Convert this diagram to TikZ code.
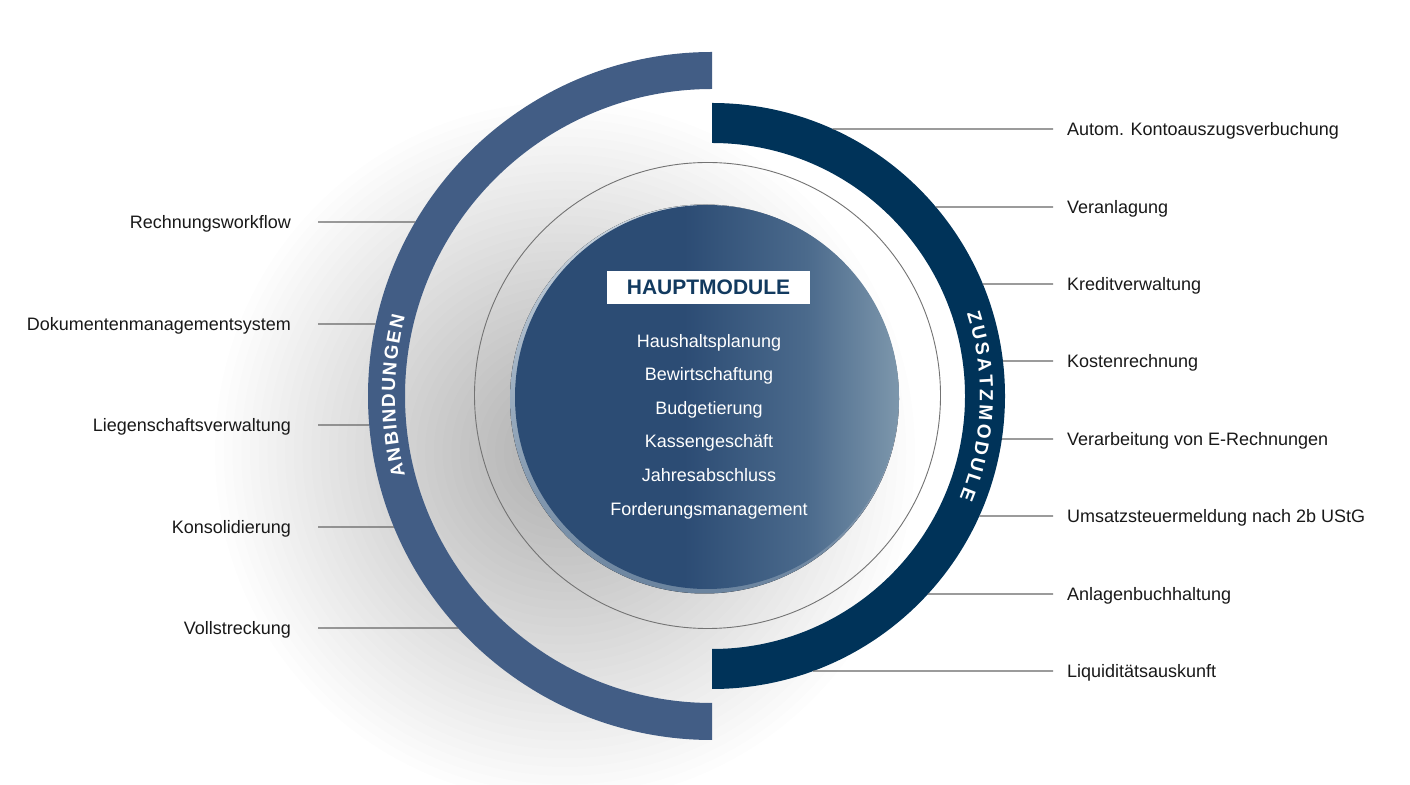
\documentclass[tikz,border=0pt]{standalone}
\usepackage{fontspec}
\setmainfont{Liberation Sans}
\usetikzlibrary{decorations.text,positioning}

\definecolor{anbblue}{HTML}{425D85}
\definecolor{zusblue}{HTML}{003359}
\definecolor{hmdark}{HTML}{2C4C74}
\definecolor{hmmid}{HTML}{4B6A8C}
\definecolor{hmlight}{HTML}{7D97AC}
\definecolor{halolight}{HTML}{CAD5DF}
\definecolor{halodark}{HTML}{6A839E}
\definecolor{titleblue}{HTML}{123A5F}

\pgfdeclarehorizontalshading{hauptshade}{100bp}{color(0bp)=(hmdark); color(25bp)=(hmdark);
  color(47bp)=(hmdark); color(63bp)=(hmmid); color(75bp)=(hmlight); color(100bp)=(hmlight)}

\begin{document}
\begin{tikzpicture}[
  x=1pt,
  y=1pt,
  lbl/.style={font=\fontsize{18}{20}\selectfont,text=black!90,inner sep=0pt,text height=13pt,text depth=0pt},
  leftlbl/.style={lbl,anchor=east,outer xsep=27pt},
  rightlbl/.style={lbl,anchor=west,outer xsep=14pt},
  modul/.style={lbl,text=white},
  leader/.style={draw=black!60,line width=1.3pt},
  ring/.style={draw=black!55,line width=0.9pt},
  shadowstep/.style={fill=black,opacity=0.006},
  titlebox/.style={fill=white,minimum width=203pt,minimum height=33pt,inner sep=0pt,
    font=\fontsize{21}{21}\selectfont\bfseries,text=titleblue},
  arctext/.style={decorate,decoration={text along path,text align=fit to path,text color=white,
    text={|\bfseries\fontsize{19}{19}\selectfont|#1}}}
]
\useasboundingbox (0,0) rectangle (1410,784);
\fill[white] (0,0) rectangle (1410,784);

\coordinate (C) at (712,388);

% soft shadow
\foreach \k in {1,...,40}
  \fill[shadowstep] (565,332) circle ({8.75*\k});

% outer bands
\fill[anbblue] (C) ++(90:344) arc[start angle=90,end angle=270,radius=344]
  -- ++(0,37) arc[start angle=270,end angle=90,radius=307] -- cycle;
\fill[zusblue] (C) ++(90:293) arc[start angle=90,end angle=-90,radius=293]
  -- ++(0,40) arc[start angle=-90,end angle=90,radius=253] -- cycle;

% thin ring and core circle
\draw[ring] (707.5,388.5) circle (233);
\fill[top color=halolight,bottom color=halodark] (704.5,385) circle (194.5);
\node[circle,minimum size=384pt,inner sep=0pt,shading=hauptshade] (haupt) at (707,387) {};

\node[titlebox] (title) at (708.5,496.5) {HAUPTMODULE};
\node[modul] (m1) at (709,443) {Haushaltsplanung};
\node[modul] (m2) at (709,410) {Bewirtschaftung};
\node[modul] (m3) at (709,376) {Budgetierung};
\node[modul] (m4) at (709,343) {Kassengeschäft};
\node[modul] (m5) at (709,309) {Jahresabschluss};
\node[modul] (m6) at (709,275) {Forderungsmanagement};

% band captions
\path[arctext=ANBINDUNGEN] (C) ++(194.5:317) arc[start angle=194.5,end angle=165.5,radius=317];
\path[arctext=ZUSATZMODULE] (C) ++(18:268) arc[start angle=18,end angle=-22.5,radius=268];

% left labels
\node[leftlbl] (l1) at (318,562) {Rechnungsworkflow};
\node[leftlbl] (l2) at (318,460) {Dokumentenmanagementsystem};
\node[leftlbl] (l3) at (318,359) {Liegenschaftsverwaltung};
\node[leftlbl] (l4) at (318,257) {Konsolidierung};
\node[leftlbl] (l5) at (318,156) {Vollstreckung};

\path (C) ++({180-asin(174/344)}:344) coordinate (a1);
\path (C) ++({180-asin(72/344)}:344) coordinate (a2);
\path (C) ++({180+asin(29/344)}:344) coordinate (a3);
\path (C) ++({180+asin(131/344)}:344) coordinate (a4);
\path (C) ++({180+asin(232/344)}:344) coordinate (a5);

\draw[leader] (l1.east) -- (a1);
\draw[leader] (l2.east) -- (a2);
\draw[leader] (l3.east) -- (a3);
\draw[leader] (l4.east) -- (a4);
\draw[leader] (l5.east) -- (a5);

% right labels
\node[rightlbl] (r1) at (1053,655) {Autom. Kontoauszugsverbuchung};
\node[rightlbl] (r2) at (1053,577) {Veranlagung};
\node[rightlbl] (r3) at (1053,500) {Kreditverwaltung};
\node[rightlbl] (r4) at (1053,423) {Kostenrechnung};
\node[rightlbl] (r5) at (1053,345) {Verarbeitung von E-Rechnungen};
\node[rightlbl] (r6) at (1053,268) {Umsatzsteuermeldung nach 2b UStG};
\node[rightlbl] (r7) at (1053,190) {Anlagenbuchhaltung};
\node[rightlbl] (r8) at (1053,113) {Liquiditätsauskunft};

\path (C) ++({asin(267/293)}:293) coordinate (b1);
\path (C) ++({asin(189/293)}:293) coordinate (b2);
\path (C) ++({asin(112/293)}:293) coordinate (b3);
\path (C) ++({asin(35/293)}:293) coordinate (b4);
\path (C) ++({-asin(43/293)}:293) coordinate (b5);
\path (C) ++({-asin(120/293)}:293) coordinate (b6);
\path (C) ++({-asin(198/293)}:293) coordinate (b7);
\path (C) ++({-asin(275/293)}:293) coordinate (b8);

\draw[leader] (b1) -- (r1.west);
\draw[leader] (b2) -- (r2.west);
\draw[leader] (b3) -- (r3.west);
\draw[leader] (b4) -- (r4.west);
\draw[leader] (b5) -- (r5.west);
\draw[leader] (b6) -- (r6.west);
\draw[leader] (b7) -- (r7.west);
\draw[leader] (b8) -- (r8.west);
\end{tikzpicture}
\end{document}
